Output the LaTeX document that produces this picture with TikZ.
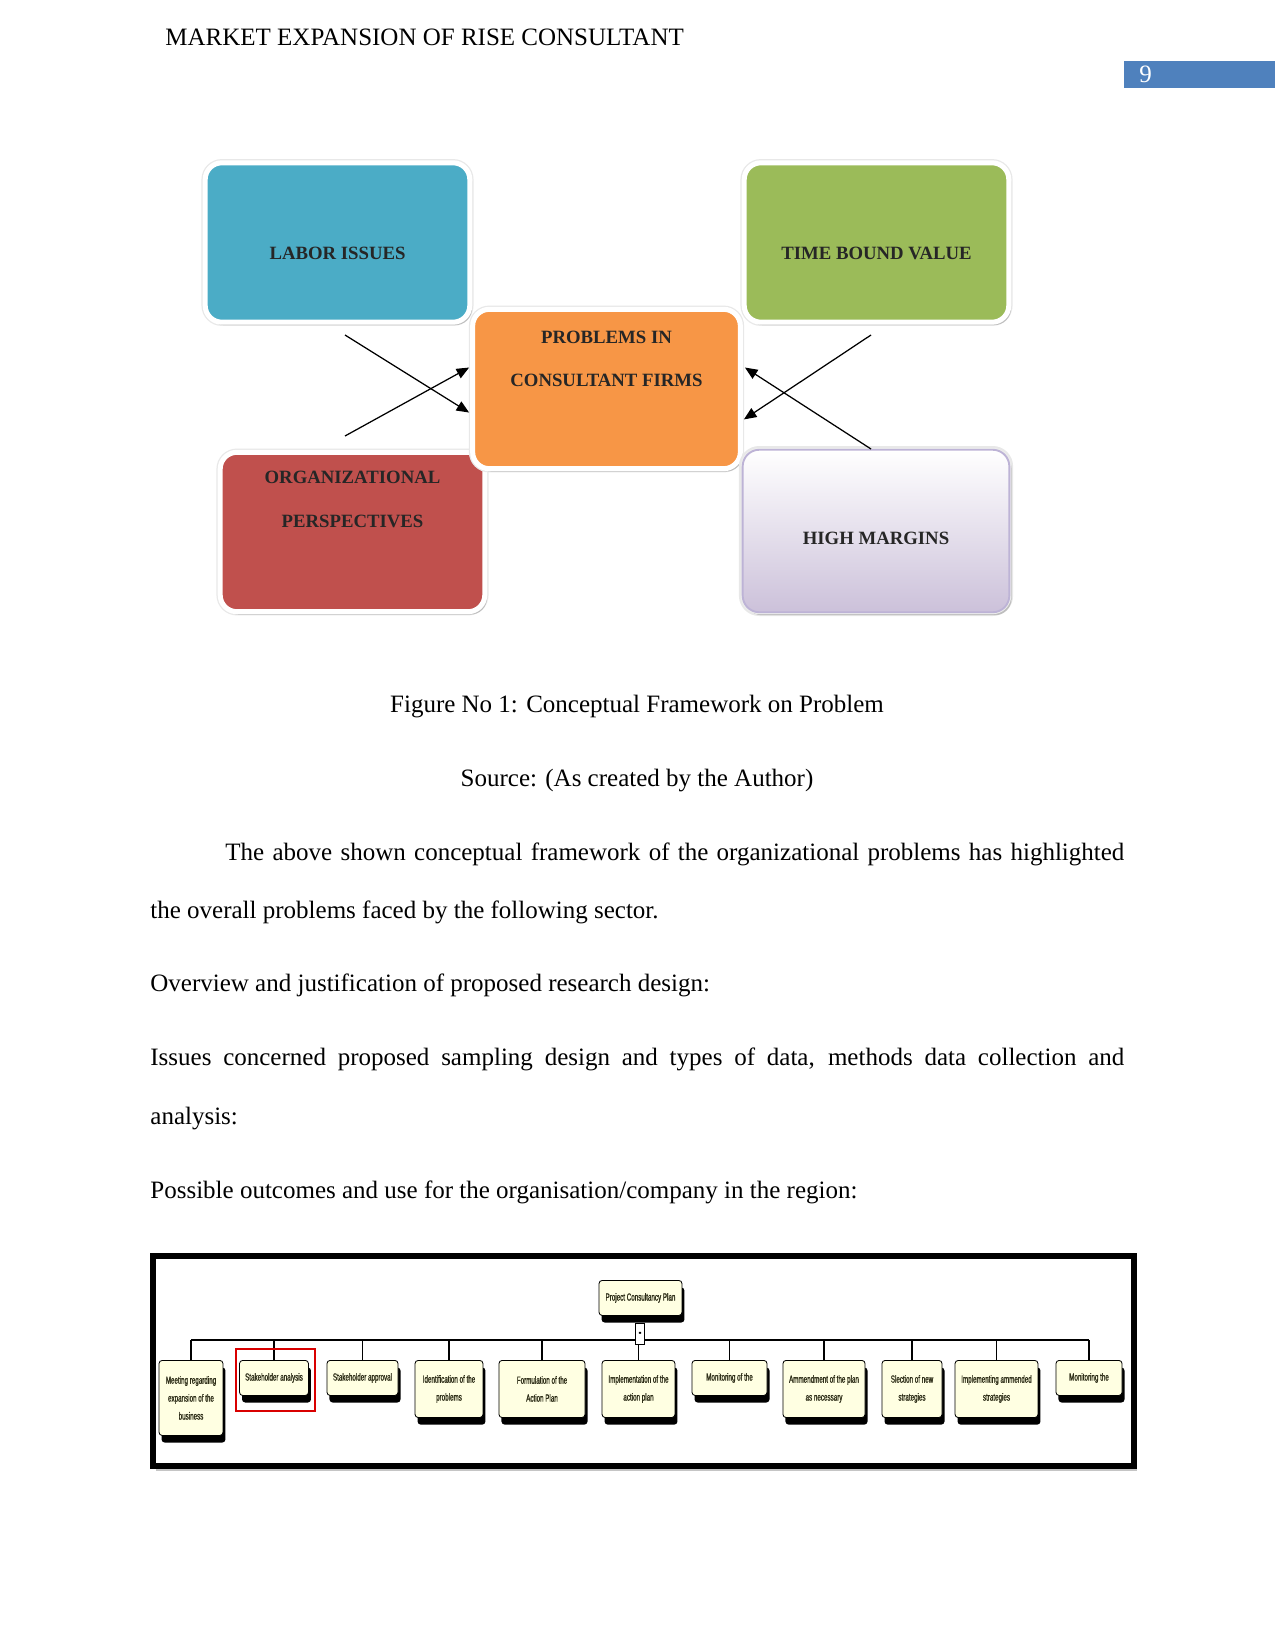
\documentclass[tikz,border=0pt]{standalone}
\usepackage{fontspec}
\setmainfont{Liberation Serif}
\newfontfamily\planfont[FakeStretch=0.6, FakeBold=1.2]{Liberation Sans}
\usepackage{xcolor}
\usepackage{tikz}
\usetikzlibrary{positioning,arrows.meta,shadows}
\definecolor{laborblue}{HTML}{4BACC6}
\definecolor{timegreen}{HTML}{9BBB59}
\definecolor{proborange}{HTML}{F79646}
\definecolor{orgred}{HTML}{C0504D}
\definecolor{marginlav}{HTML}{CCC1DA}
\definecolor{marginedge}{HTML}{BDB3D6}
\definecolor{pageblue}{HTML}{4F81BD}
\definecolor{planfill}{HTML}{FFFFE2}
\definecolor{plantext}{HTML}{2E2E18}
\tikzset{
    probbox/.style={draw=white, line width=2.4pt, rounded corners=8pt, minimum width=127pt, minimum height=76.5pt, preaction={draw=black!9, line width=3.6pt}, drop shadow={shadow xshift=1.1pt, shadow yshift=-1.4pt, fill=black!45, opacity=0.45}},
    probtext/.style={font=\bfseries\fontsize{9}{21}\selectfont, text=black!85, align=center},
    probarrow/.style={draw, -{Triangle[length=6pt,width=5pt]}, line width=0.6pt},
    planbox/.style={draw, fill=planfill, rounded corners=1.5pt, align=center, anchor=north, inner sep=0.5pt, text=plantext, font=\planfont\fontsize{5}{8.6}\selectfont, drop shadow={shadow xshift=1.2pt, shadow yshift=-3.4pt, fill=black, opacity=1}},
    planline/.style={draw, line width=0.5pt},
    pagetext/.style={anchor=base west, inner sep=0pt, font=\fontsize{12}{14}\selectfont},
    pagecentre/.style={anchor=base, inner sep=0pt, font=\fontsize{12}{14}\selectfont}
}

\begin{document}
\begin{tikzpicture}[x=0.48pt, y=-0.48pt]
    \useasboundingbox[fill=white] (0,0) rectangle (1275,1651);
    \node[pagetext] (header) at (165,46) {MARKET EXPANSION OF RISE CONSULTANT};
    \node[fill=pageblue, minimum width=72.5pt, minimum height=13pt, inner sep=0pt] (pagebox) at (1199.5,74.5) {};
    \node[pagetext, text=white] (pagenum) at (1139,83) {9};

    \node[probbox, fill=laborblue, label={[probtext, yshift=-5.3pt]center:LABOR ISSUES}] (labor) at (337.5,242.5) {};
    \node[probbox, fill=timegreen, label={[probtext, yshift=-5.3pt]center:TIME BOUND VALUE}] (time) at (876.5,242.5) {};
    \node[probbox, fill=orgred, label={[probtext, yshift=15.5pt]center:ORGANIZATIONAL\\PERSPECTIVES}] (org) at (352.5,532) {};
    \node[probbox, fill=proborange, minimum width=128.5pt, label={[probtext, yshift=14.4pt]center:PROBLEMS IN\\CONSULTANT FIRMS}] (problems) at (606.5,389) {};
    \node[probbox, draw=marginedge, line width=0.9pt, preaction={draw=black!7, line width=1.8pt}, top color=white, bottom color=marginlav, minimum width=128pt, minimum height=78pt, label={[probtext, yshift=-3.4pt]center:HIGH MARGINS}] (margins) at (876,531) {};
    \coordinate (laborfoot) at (345,335);
    \coordinate (orghead) at (345,436);
    \coordinate (timefoot) at (871,335);
    \coordinate (marginhead) at (871,449);
    \draw[probarrow] (laborfoot) -- ([xshift=-0.5pt, yshift=-11.3pt]problems.west);
    \draw[probarrow] (orghead) -- ([xshift=-0.5pt, yshift=10.3pt]problems.west);
    \draw[probarrow] (timefoot) -- ([xshift=0.5pt, yshift=-14.6pt]problems.east);
    \draw[probarrow] (marginhead) -- ([xshift=1pt, yshift=10.3pt]problems.east);

    \node[pagecentre] (caption) at (637,712) {Figure No 1: Conceptual Framework on Problem};
    \node[pagecentre] (source) at (637,786) {Source: (As created by the Author)};
    \node[pagetext] (para1) at (225,860) {\makebox[431.5pt][s]{The above shown conceptual framework of the organizational problems has highlighted}};
    \node[pagetext] (para2) at (150,918) {the overall problems faced by the following sector.};
    \node[pagetext] (overview) at (150,991) {Overview and justification of proposed research design:};
    \node[pagetext] (issues1) at (150,1065) {\makebox[467.5pt][s]{Issues concerned proposed sampling design and types of data, methods data collection and}};
    \node[pagetext] (issues2) at (150,1124) {analysis:};
    \node[pagetext] (outcomes) at (150,1198) {Possible outcomes and use for the organisation/company in the region:};

    \node[draw, fill=white, line width=2.9pt, minimum width=470.9pt, minimum height=100.8pt, drop shadow={shadow xshift=1.5pt, shadow yshift=-2.5pt, fill=black!45, opacity=0.5}] (planframe) at (643.5,1361) {};
    \node[planbox, minimum width=39.8pt, minimum height=16.8pt] (root) at (640.5,1280) {Project Consultancy Plan};
    \coordinate (bus) at (640,1340);
    \node[planbox, minimum width=30.7pt, minimum height=36pt] (meet) at (191,1360) {Meeting regarding\\expansion of the\\business};
    \node[planbox, minimum width=33.1pt, minimum height=16.8pt] (stakeana) at (274,1360) {Stakeholder analysis};
    \node[planbox, minimum width=34.1pt, minimum height=16.8pt] (stakeapp) at (362.5,1360) {Stakeholder approval};
    \node[planbox, minimum width=32.6pt, minimum height=27.4pt] (ident) at (449,1360) {Identification of the\\problems};
    \node[planbox, minimum width=41.3pt, minimum height=27.4pt] (formul) at (542,1360) {Formulation of the\\Action Plan};
    \node[planbox, minimum width=35pt, minimum height=27.4pt] (implem) at (638.5,1360) {Implementation of the\\action plan};
    \node[planbox, minimum width=36pt, minimum height=16.8pt] (monit) at (729.5,1360) {Monitoring of the};
    \node[planbox, minimum width=39.4pt, minimum height=27.4pt] (ammend) at (824,1360) {Ammendment of the plan\\as necessary};
    \node[planbox, minimum width=28.8pt, minimum height=27.4pt] (slect) at (912,1360) {Slection of new\\strategies};
    \node[planbox, minimum width=39.8pt, minimum height=27.4pt] (implamm) at (996.5,1360) {Implementing ammended\\strategies};
    \node[planbox, minimum width=31.7pt, minimum height=16.8pt] (monit2) at (1089,1360) {Monitoring the};
    \draw[planline] (meet.north |- bus) -- (monit2.north |- bus);
    \foreach \step in {meet,stakeana,stakeapp,ident,formul,implem,monit,ammend,slect,implamm,monit2}
        \draw[planline] (\step.north) -- (\step.north |- bus);
    \node[draw, fill=white, line width=0.5pt, minimum width=4pt, minimum height=10.5pt, inner sep=0pt, font=\planfont\fontsize{6}{6}\selectfont] (rootmark) at (640,1334) {\textbf{-}};
    \node[draw=red!85!black, line width=0.7pt, minimum width=37.9pt, minimum height=29.8pt] (pick) at (275.5,1380) {};
\end{tikzpicture}
\end{document}
